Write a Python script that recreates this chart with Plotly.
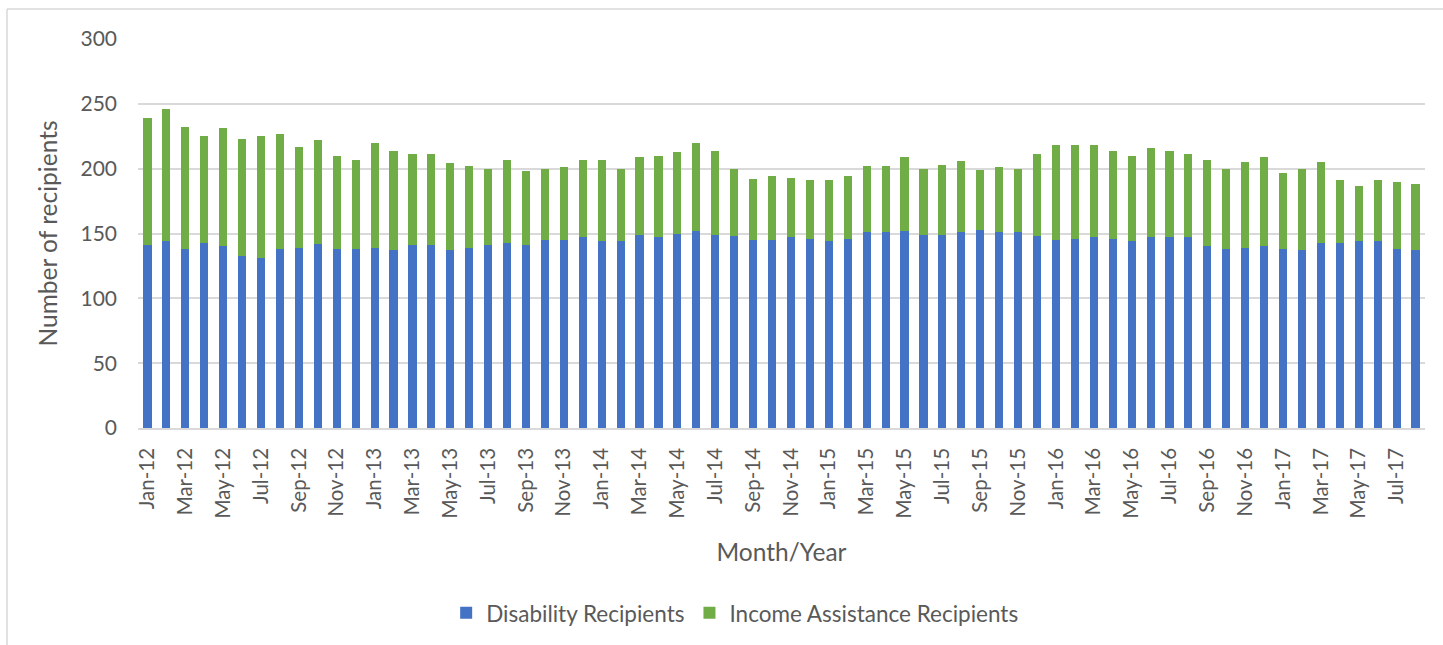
import plotly.graph_objects as go

# Monthly caseload, Jan 2012 - Aug 2017
months = [
    "Jan-12", "Feb-12", "Mar-12", "Apr-12", "May-12", "Jun-12", "Jul-12", "Aug-12", "Sep-12", "Oct-12", "Nov-12", "Dec-12",
    "Jan-13", "Feb-13", "Mar-13", "Apr-13", "May-13", "Jun-13", "Jul-13", "Aug-13", "Sep-13", "Oct-13", "Nov-13", "Dec-13",
    "Jan-14", "Feb-14", "Mar-14", "Apr-14", "May-14", "Jun-14", "Jul-14", "Aug-14", "Sep-14", "Oct-14", "Nov-14", "Dec-14",
    "Jan-15", "Feb-15", "Mar-15", "Apr-15", "May-15", "Jun-15", "Jul-15", "Aug-15", "Sep-15", "Oct-15", "Nov-15", "Dec-15",
    "Jan-16", "Feb-16", "Mar-16", "Apr-16", "May-16", "Jun-16", "Jul-16", "Aug-16", "Sep-16", "Oct-16", "Nov-16", "Dec-16",
    "Jan-17", "Feb-17", "Mar-17", "Apr-17", "May-17", "Jun-17", "Jul-17", "Aug-17",
]

disability = [
    141, 144, 138, 143, 140, 133, 131, 138, 139, 142, 138, 138,
    139, 137, 141, 141, 137, 139, 141, 143, 141, 145, 145, 147,
    144, 144, 149, 147, 150, 152, 149, 148, 145, 145, 147, 146,
    144, 146, 151, 151, 152, 149, 149, 151, 153, 151, 151, 148,
    145, 146, 147, 146, 144, 147, 147, 147, 140, 138, 139, 140,
    138, 137, 143, 143, 144, 144, 138, 137,
]

income_assistance = [
    98, 102, 94, 82, 91, 90, 94, 89, 78, 80, 72, 69,
    81, 77, 70, 70, 67, 63, 59, 64, 57, 55, 56, 60,
    63, 56, 60, 63, 63, 68, 65, 52, 47, 49, 46, 45,
    47, 48, 51, 51, 57, 51, 54, 55, 46, 50, 49, 63,
    73, 72, 71, 68, 66, 69, 67, 64, 67, 62, 66, 69,
    59, 63, 62, 48, 43, 47, 52, 51,
]

tick_labels = months[::2]

FONT = "Lato"
TEXT = "#595959"

fig = go.Figure()
fig.add_trace(go.Bar(x=months, y=disability, name="Disability Recipients",
                     marker=dict(color="#4472C4", line=dict(width=0))))
fig.add_trace(go.Bar(x=months, y=income_assistance, name="Income Assistance Recipients",
                     marker=dict(color="#70AD47", line=dict(width=0))))

fig.update_layout(
    barmode="stack",
    bargap=0.57,
    width=1443,
    height=645,
    margin=dict(l=138, r=18, t=39, b=217, autoexpand=False),
    paper_bgcolor="white",
    plot_bgcolor="white",
    font=dict(family=FONT, color=TEXT, size=20),
    legend=dict(
        orientation="h",
        traceorder="normal",
        x=0.464, xanchor="center",
        y=-0.476, yanchor="middle",
        font=dict(size=22.5, color=TEXT),
        itemwidth=30,
        tracegroupgap=0,
    ),
    xaxis=dict(
        type="category",
        tickmode="array",
        tickvals=tick_labels,
        ticktext=tick_labels,
        tickangle=-90,
        tickfont=dict(size=20.5, color=TEXT),
        showgrid=False,
        showline=True,
        linecolor="#D9D9D9",
        linewidth=1.5,
        ticks="",
        ticklabelstandoff=10,
        automargin=False,
        title=dict(text="Month/Year", font=dict(size=24.5, color=TEXT), standoff=26),
    ),
    yaxis=dict(
        range=[0, 300],
        tickmode="array",
        tickvals=[0, 50, 100, 150, 200, 250, 300],
        tickfont=dict(size=21, color=TEXT),
        showgrid=True,
        gridcolor="#D9D9D9",
        gridwidth=1.5,
        zeroline=False,
        showline=False,
        ticks="",
        ticklabelstandoff=20,
        automargin=False,
        title=dict(text="Number of recipients", font=dict(size=24.5, color=TEXT), standoff=15),
    ),
    shapes=[
        # outer chart frame (top and left edges)
        dict(type="line", xref="paper", yref="paper",
             x0=(7 - 138) / 1287, x1=(1443 - 138) / 1287,
             y0=(428 - 9) / 389, y1=(428 - 9) / 389,
             line=dict(color="#D9D9D9", width=1.5)),
        dict(type="line", xref="paper", yref="paper",
             x0=(7 - 138) / 1287, x1=(7 - 138) / 1287,
             y0=(428 - 9) / 389, y1=(428 - 650) / 389,
             line=dict(color="#D9D9D9", width=1.5)),
    ],
)

fig.write_html("out.html")
